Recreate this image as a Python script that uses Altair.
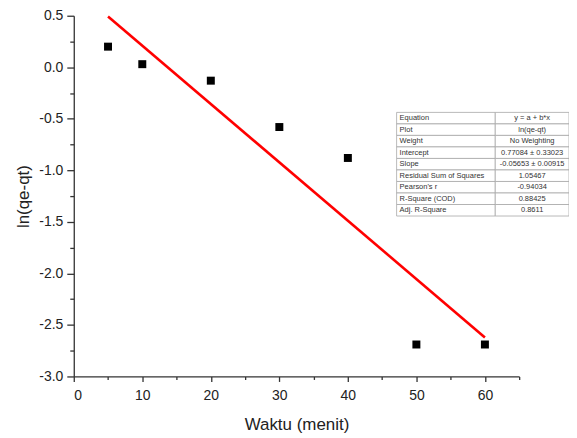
import altair as alt
import pandas as pd

# data
waktu = [5, 10, 20, 30, 40, 50, 60]
ln_qe_qt = [0.20, 0.03, -0.13, -0.58, -0.88, -2.69, -2.69]

table_labels = ["Equation", "Plot", "Weight", "Intercept", "Slope",
                "Residual Sum of Squares", "Pearson's r", "R-Square (COD)", "Adj. R-Square"]
table_values = ["y = a + b*x", "ln(qe-qt)", "No Weighting", "0.77084 \u00b1 0.33023",
                "-0.05653 \u00b1 0.00915", "1.05467", "-0.94034", "0.88425", "0.8611"]

x_major = [0, 10, 20, 30, 40, 50, 60]
x_minor = [5, 15, 25, 35, 45, 55, 65]
y_major = [0.5, 0.0, -0.5, -1.0, -1.5, -2.0, -2.5, -3.0]
y_minor = [0.25, -0.25, -0.75, -1.25, -1.75, -2.25, -2.75]

df = pd.DataFrame({"x": waktu, "y": ln_qe_qt})
tdf = pd.DataFrame({"row": list(range(len(table_labels))), "label": table_labels, "value": table_values})

FONT = "Liberation Sans"
xdom = [0, 65]
ydom = [-3.0, 0.5]

axis_common = dict(domainColor="#333", tickColor="#333", domainWidth=1.3, tickWidth=1.3,
                   grid=False, labelFont=FONT, titleFont=FONT, labelColor="#222",
                   titleColor="#222", titleFontWeight="normal")

xs = alt.Scale(domain=xdom, nice=False, zero=False)
ys = alt.Scale(domain=ydom, nice=False, zero=False)

points = alt.Chart(df).mark_square(size=64, color="black", opacity=1).encode(
    x=alt.X("x:Q", scale=xs, axis=alt.Axis(values=x_major, orient="bottom", title="Waktu (menit)",
                                            labelFontSize=14, titleFontSize=17, tickSize=5,
                                            labelPadding=7, titlePadding=14, format="d", **axis_common)),
    y=alt.Y("y:Q", scale=ys, axis=alt.Axis(values=y_major, orient="left", title="ln(qe-qt)",
                                            labelFontSize=14, titleFontSize=17, tickSize=7,
                                            labelPadding=4, titlePadding=6,
                                            labelExpr="replace(format(datum.value, '.1f'), '\u2212', '-')",
                                            **axis_common)),
)

minor = alt.Chart(df).mark_point(opacity=0).encode(
    x=alt.X("x:Q", scale=xs, axis=alt.Axis(values=x_minor, orient="bottom", title=None, labels=False,
                                            tickSize=3, domain=False, **axis_common)),
    y=alt.Y("y:Q", scale=ys, axis=alt.Axis(values=y_minor, orient="left", title=None, labels=False,
                                            tickSize=4, domain=False, **axis_common)),
)

fit = alt.Chart(df).transform_regression("x", "y", extent=[5, 60]).mark_line(
    color="#ff0000", strokeWidth=2.6).encode(
    x=alt.X("x:Q", scale=xs, axis=None),
    y=alt.Y("y:Q", scale=ys, axis=None),
)

tys = alt.Scale(type="band", range=[97, 201], paddingInner=0, paddingOuter=0)
ty = alt.Y("row:O", scale=tys, axis=None)

left_cells = alt.Chart(tdf).mark_rect(fill="white", stroke="#a8a8a8", strokeWidth=0.8).encode(
    x=alt.value(324), x2=alt.value(423), y=ty)
right_cells = alt.Chart(tdf).mark_rect(fill="white", stroke="#a8a8a8", strokeWidth=0.8).encode(
    x=alt.value(423), x2=alt.value(497), y=ty)
left_text = alt.Chart(tdf).mark_text(align="left", baseline="middle", fontSize=7.5, font=FONT,
                                     color="#333").encode(
    x=alt.value(327), y=ty, text="label:N")
right_text = alt.Chart(tdf).mark_text(align="center", baseline="middle", fontSize=7.5, font=FONT,
                                      color="#333").encode(
    x=alt.value(460), y=ty, text="value:N")

chart = alt.layer(minor, points, fit, left_cells, right_cells, left_text, right_text).resolve_scale(
    x="independent", y="independent").resolve_axis(x="independent", y="independent").properties(
    width=447, height=362,
    autosize=alt.AutoSizeParams(type="none"),
    padding={"left": 66, "top": 7, "right": 50, "bottom": 60},
).configure_view(stroke=None)

chart.save("out.html", embed_options={"renderer": "svg", "actions": False})
